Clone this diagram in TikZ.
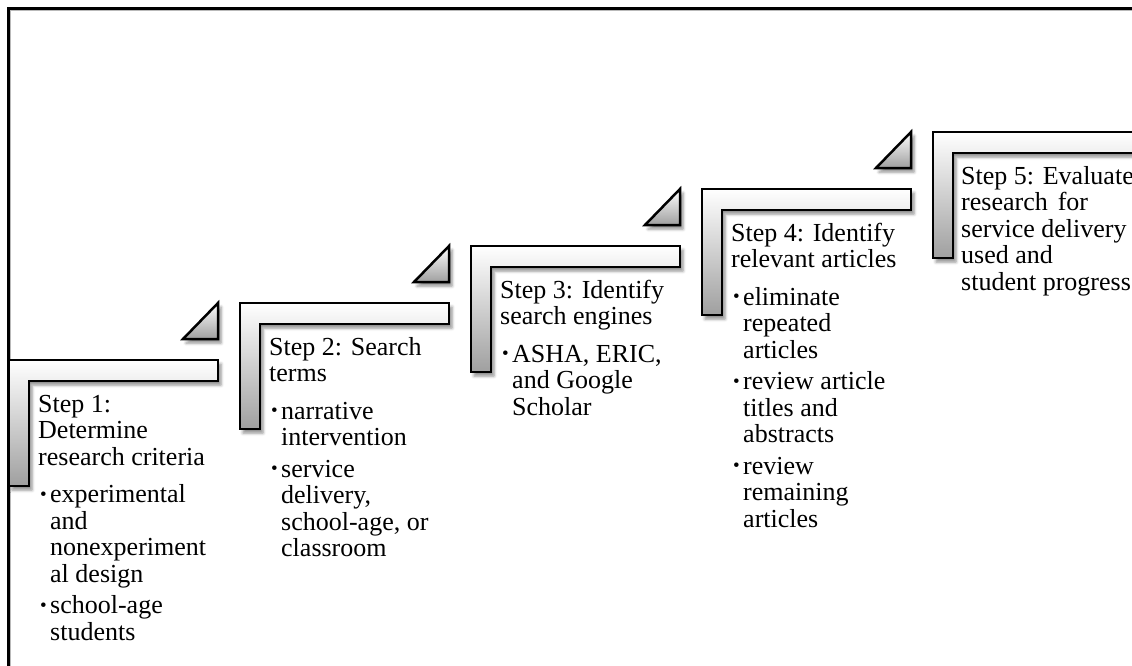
\documentclass[tikz,border=0pt]{standalone}
\usepackage{fontspec}
\setmainfont{Liberation Serif}
\usetikzlibrary{shadows.blur}
\newcommand{\stepbul}{\hspace*{2pt}\makebox[10pt][l]{\raisebox{2.5pt}{\fontsize{19}{19}\selectfont\textbullet}}}
\newcommand{\stepind}{\hspace*{12pt}}
\tikzset{
  stepshape/.style={draw=black, line width=2.5pt, line join=miter,
    top color=white, bottom color=gray!75,
    blur shadow={shadow xshift=3pt, shadow yshift=-4pt, shadow blur radius=3pt, shadow opacity=45}},
  steptext/.style={anchor=north west, inner sep=0pt, align=left,
    font=\fontsize{26}{26.5}\selectfont, text=black}
}
\begin{document}
\begin{tikzpicture}[x=1pt,y=-1pt]
\useasboundingbox (0,0) rectangle (1132,666);
\clip (0,0) rectangle (1132,666);
% frame
\draw[gray!55, line width=1.2pt] (10.8,667) -- (10.8,10.8) -- (1133,10.8);
\draw[black, line width=2.5pt] (8.7,667) -- (8.7,8.7) -- (1133,8.7);
% step shapes
\foreach \i in {0,...,4}{
  \pgfmathsetmacro{\X}{9+231*\i}
  \pgfmathsetmacro{\Y}{360-57*\i}
  \path[stepshape] (\X,\Y) -- ++(209,0) -- ++(0,21) -- ++(-189,0) -- ++(0,105) -- ++(-20,0) -- cycle;
}
% triangles
\foreach \i in {0,...,3}{
  \pgfmathsetmacro{\X}{9+231*\i}
  \pgfmathsetmacro{\Y}{360-57*\i}
  \path[stepshape] (\X+209,\Y-57) -- (\X+209,\Y-21) -- (\X+174,\Y-21) -- cycle;
}
% texts
\node[steptext] (l1) at (38,392) {\rule{0pt}{20pt}Step 1:\\Determine\\research criteria\\[11pt]\stepbul experimental\\\stepind and\\\stepind nonexperiment\\\stepind al design\\[5pt]\stepbul school-age\\\stepind students};
\node[steptext] (l2) at (269,335) {\rule{0pt}{20pt}Step 2: Search\\terms\\[11pt]\stepbul narrative\\\stepind intervention\\[5pt]\stepbul service\\\stepind delivery,\\\stepind school-age, or\\\stepind classroom};
\node[steptext] (l3) at (500,278) {\rule{0pt}{20pt}Step 3: Identify\\search engines\\[11pt]\stepbul ASHA, ERIC,\\\stepind and Google\\\stepind Scholar};
\node[steptext] (l4) at (731,221) {\rule{0pt}{20pt}Step 4: Identify\\relevant articles\\[11pt]\stepbul eliminate\\\stepind repeated\\\stepind articles\\[5pt]\stepbul review article\\\stepind titles and\\\stepind abstracts\\[5pt]\stepbul review\\\stepind remaining\\\stepind articles};
\node[steptext] (l5) at (961,164) {\rule{0pt}{20pt}Step 5: Evaluate\\research\hspace{10pt}for\\service delivery\\used and\\student progress};
\end{tikzpicture}
\end{document}
